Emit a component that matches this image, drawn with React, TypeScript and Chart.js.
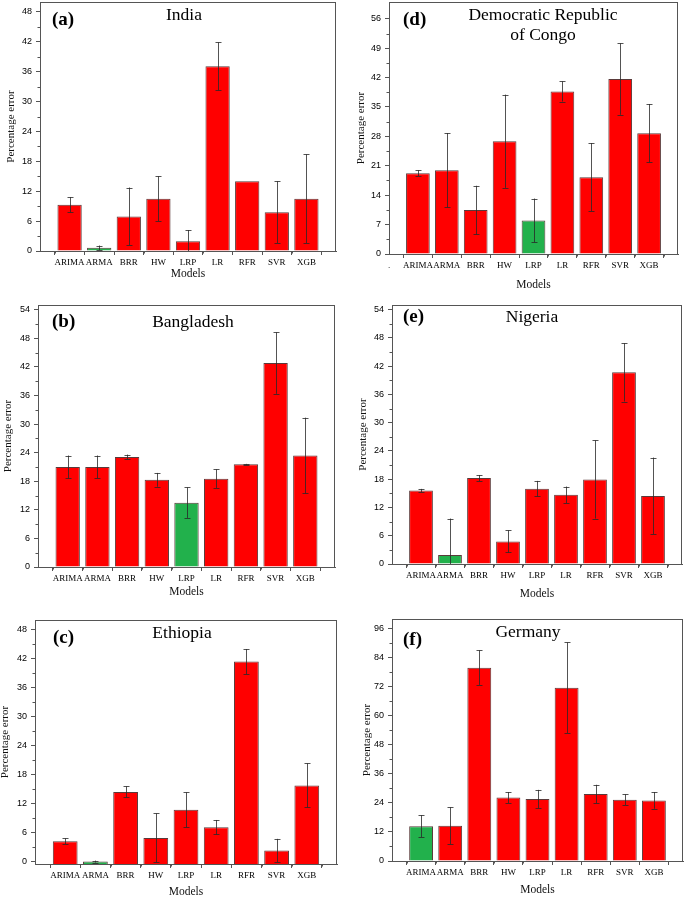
import { useEffect, useRef } from "react";
import { Chart, registerables, type ChartConfiguration, type Plugin } from "chart.js";

Chart.register(...registerables);

const models = ["ARIMA", "ARMA", "BRR", "HW", "LRP", "LR", "RFR", "SVR", "XGB"];

// (a) India
const indiaValues = [9.3, 0.65, 6.95, 10.5, 1.95, 37.1, 14.0, 7.8, 10.5];
const indiaErrors = [1.5, 0.45, 5.8, 4.5, 2.25, 4.8, 0, 6.2, 8.9];
const indiaTicks = [0, 6, 12, 18, 24, 30, 36, 42, 48];

// (b) Bangladesh
const bangladeshValues = [21.0, 21.0, 23.1, 18.3, 13.5, 18.55, 21.55, 42.8, 23.4];
const bangladeshErrors = [2.4, 2.4, 0.5, 1.45, 3.2, 1.95, 0.1, 6.45, 7.95];
const bangladeshTicks = [0, 6, 12, 18, 24, 30, 36, 42, 48, 54];

// (c) Ethiopia
const ethiopiaValues = [4.25, 0.05, 14.45, 4.95, 10.75, 7.15, 41.4, 2.35, 15.8];
const ethiopiaErrors = [0.6, 0.2, 1.15, 5.05, 3.6, 1.5, 2.6, 2.4, 4.55];
const ethiopiaTicks = [0, 6, 12, 18, 24, 30, 36, 42, 48];

// (d) Democratic Republic of Congo
const congoValues = [19.25, 19.95, 10.45, 26.85, 8.0, 38.7, 18.3, 41.65, 28.75];
const congoErrors = [0.7, 8.85, 5.8, 11.1, 5.2, 2.4, 8.1, 8.5, 6.95];
const congoTicks = [0, 7, 14, 21, 28, 35, 42, 49, 56];

// (e) Nigeria
const nigeriaValues = [15.6, 1.9, 18.25, 4.8, 16.0, 14.7, 17.95, 40.7, 14.45];
const nigeriaErrors = [0.35, 7.75, 0.65, 2.35, 1.65, 1.75, 8.3, 6.2, 8.15];
const nigeriaTicks = [0, 6, 12, 18, 24, 30, 36, 42, 48, 54];

// (f) Germany
const germanyValues = [14.4, 14.55, 79.9, 26.2, 25.6, 71.6, 27.7, 25.35, 25.05];
const germanyErrors = [4.5, 7.6, 7.15, 2.3, 3.8, 18.7, 3.8, 2.2, 3.45];
const germanyTicks = [0, 12, 24, 36, 48, 60, 72, 84, 96];

const RED = "#ff0000";
const GREEN = "#22b14c";
const SERIF = "'Liberation Serif', 'Times New Roman', serif";
const SANS = "'Liberation Sans', Arial, sans-serif";

type Panel = {
  letter: string;
  title: string[];
  values: number[];
  errors: number[];
  ticks: number[];
  yMin: number;
  yMax: number;
  green: number;
  firstLabel?: string;
  frame: [number, number, number, number]; // l, t, r, b (page px)
  modelsY: number;
  yTitleX: number;
  titleX: number;
  titleY: number;
  letterX: number;
  letterY: number;
};

const panels: Panel[] = [
  {
    letter: "(a)", title: ["India"], values: indiaValues, errors: indiaErrors, ticks: indiaTicks,
    yMin: 0, yMax: 50, green: 1, frame: [40, 2, 336, 251], modelsY: 274, yTitleX: 11,
    titleX: 184, titleY: 15, letterX: 52, letterY: 20,
  },
  {
    letter: "(b)", title: ["Bangladesh"], values: bangladeshValues, errors: bangladeshErrors, ticks: bangladeshTicks,
    yMin: 0, yMax: 55, green: 4, frame: [38, 305, 335, 567], modelsY: 592, yTitleX: 8,
    titleX: 193, titleY: 322, letterX: 52, letterY: 322,
  },
  {
    letter: "(c)", title: ["Ethiopia"], values: ethiopiaValues, errors: ethiopiaErrors, ticks: ethiopiaTicks,
    yMin: -0.45, yMax: 50, green: 1, frame: [35, 620, 337, 864], modelsY: 892, yTitleX: 5,
    titleX: 182, titleY: 633, letterX: 53, letterY: 638,
  },
  {
    letter: "(d)", title: ["Democratic Republic", "of Congo"], values: congoValues, errors: congoErrors, ticks: congoTicks,
    yMin: 0, yMax: 60, green: 4, firstLabel: ".", frame: [389, 2, 678, 254], modelsY: 285, yTitleX: 361,
    titleX: 543, titleY: 15, letterX: 403, letterY: 20,
  },
  {
    letter: "(e)", title: ["Nigeria"], values: nigeriaValues, errors: nigeriaErrors, ticks: nigeriaTicks,
    yMin: 0, yMax: 55, green: 1, frame: [392, 305, 682, 564], modelsY: 594, yTitleX: 363,
    titleX: 532, titleY: 317, letterX: 403, letterY: 317,
  },
  {
    letter: "(f)", title: ["Germany"], values: germanyValues, errors: germanyErrors, ticks: germanyTicks,
    yMin: 0, yMax: 100, green: 0, frame: [392, 619, 683, 861], modelsY: 890, yTitleX: 367,
    titleX: 528, titleY: 632, letterX: 403, letterY: 640,
  },
];

function canvasBox(p: Panel) {
  const [l, t, r] = p.frame;
  const left = Math.max(0, l - 40);
  const top = Math.max(0, t - 6);
  const right = Math.min(685, r + 3);
  const bottom = p.modelsY + 6;
  return { left, top, width: right - left, height: bottom - top };
}

function decorPlugin(p: Panel): Plugin<"bar"> {
  return {
    id: "panelDecor",
    afterDatasetsDraw(chart) {
      const { ctx } = chart;
      const x = chart.scales.x;
      const y = chart.scales.y;
      ctx.save();
      ctx.strokeStyle = "rgba(40,40,40,0.8)";
      ctx.lineWidth = 1;
      p.values.forEach((v, i) => {
        const e = p.errors[i];
        if (!e) return;
        const px = Math.round(x.getPixelForValue(i + 1)) + 0.5;
        const top = y.getPixelForValue(Math.min(v + e, p.yMax));
        const bot = y.getPixelForValue(Math.max(v - e, p.yMin));
        ctx.beginPath();
        ctx.moveTo(px, top);
        ctx.lineTo(px, bot);
        ctx.moveTo(px - 3, Math.round(top) + 0.5);
        ctx.lineTo(px + 3, Math.round(top) + 0.5);
        ctx.moveTo(px - 3, Math.round(bot) + 0.5);
        ctx.lineTo(px + 3, Math.round(bot) + 0.5);
        ctx.stroke();
      });
      ctx.restore();
    },
    afterDraw(chart) {
      const { ctx, chartArea } = chart;
      const x = chart.scales.x;
      const y = chart.scales.y;
      const box = canvasBox(p);
      ctx.save();
      // frame
      ctx.strokeStyle = "#555";
      ctx.lineWidth = 1;
      ctx.strokeRect(
        Math.round(chartArea.left) + 0.5,
        Math.round(chartArea.top) + 0.5,
        Math.round(chartArea.right - chartArea.left) - 1,
        Math.round(chartArea.bottom - chartArea.top)
      );
      // minor ticks
      ctx.beginPath();
      for (let i = 0; i < p.ticks.length - 1; i++) {
        const py = Math.round(y.getPixelForValue((p.ticks[i] + p.ticks[i + 1]) / 2)) + 0.5;
        ctx.moveTo(chartArea.left, py);
        ctx.lineTo(chartArea.left - 2.5, py);
      }
      for (let i = 0; i < 10; i++) {
        const px = Math.round(x.getPixelForValue(i + 0.5)) + 0.5;
        ctx.moveTo(px, chartArea.bottom);
        ctx.lineTo(px, chartArea.bottom + 2.5);
      }
      ctx.stroke();
      // title
      ctx.fillStyle = "#000";
      ctx.textAlign = "center";
      ctx.textBaseline = "middle";
      ctx.font = `17.5px ${SERIF}`;
      p.title.forEach((line, i) => {
        ctx.fillText(line, p.titleX - box.left, p.titleY - box.top + i * 20);
      });
      ctx.textAlign = "left";
      ctx.font = `bold 19px ${SERIF}`;
      ctx.fillText(p.letter, p.letterX - box.left, p.letterY - box.top);
      ctx.restore();
    },
  };
}

function PanelChart({ p }: { p: Panel }) {
  const canvasRef = useRef<HTMLCanvasElement>(null);
  const box = canvasBox(p);

  useEffect(() => {
    if (!canvasRef.current) return;
    const [l, t, r, b] = p.frame;
    const labels = [p.firstLabel ?? "", ...models, ""];
    const colors = models.map((_, i) => (i === p.green ? GREEN : RED));
    const config: ChartConfiguration<"bar"> = {
      type: "bar",
      data: {
        labels,
        datasets: [
          {
            data: [null, ...p.values, null] as any,
            backgroundColor: ["#fff", ...colors, "#fff"],
            borderColor: "#5a3a3a",
            borderWidth: 1,
            barPercentage: 0.82,
            categoryPercentage: 1,
            base: p.yMin,
          },
        ],
      },
      options: {
        responsive: false,
        animation: false,
        devicePixelRatio: 1,
        layout: {
          padding: { top: t - box.top, right: box.left + box.width - r, left: 0, bottom: 0 },
        },
        plugins: { legend: { display: false }, tooltip: { enabled: false }, title: { display: false } },
        scales: {
          x: {
            type: "category",
            offset: false,
            grid: { display: true, drawOnChartArea: false, drawTicks: true, tickLength: 4, color: "#555" },
            border: { display: true, color: "#555", width: 1 },
            ticks: {
              autoSkip: false,
              maxRotation: 0,
              padding: 2,
              color: "#000",
              font: { family: SERIF, size: 9 },
            },
            title: {
              display: true,
              text: "Models",
              color: "#111",
              font: { family: SERIF, size: 11.5, lineHeight: 1 },
              padding: { top: 0, bottom: 0 },
            },
            afterFit: (scale: any) => {
              scale.height = box.top + box.height - b;
              scale.paddingLeft = 0;
              scale.paddingRight = 0;
            },
          },
          y: {
            type: "linear",
            min: p.yMin,
            max: p.yMax,
            grid: { display: true, drawOnChartArea: false, drawTicks: true, tickLength: 4, color: "#555" },
            border: { display: true, color: "#555", width: 1 },
            ticks: {
              padding: 4,
              color: "#000",
              font: { family: SANS, size: 9 },
            },
            afterBuildTicks: (axis: any) => {
              axis.ticks = p.ticks.map((value) => ({ value }));
            },
            title: {
              display: true,
              text: "Percentage error",
              color: "#111",
              font: { family: SERIF, size: 11, lineHeight: 1 },
              padding: { top: Math.max(0, p.yTitleX - box.left - 5.5), bottom: 0 },
            },
            afterFit: (scale: any) => {
              scale.width = l - box.left;
              scale.paddingTop = 0;
              scale.paddingBottom = 0;
            },
          },
        },
      },
      plugins: [decorPlugin(p)],
    };
    const chart = new Chart(canvasRef.current, config);
    return () => chart.destroy();
  }, [p]);

  return (
    <canvas
      ref={canvasRef}
      width={box.width}
      height={box.height}
      style={{ position: "absolute", left: box.left, top: box.top, width: box.width, height: box.height }}
    />
  );
}

export default function App() {
  return (
    <div
      style={{
        position: "absolute",
        left: 0,
        top: 0,
        width: 685,
        height: 898,
        overflow: "hidden",
        background: "#fff",
      }}
    >
      {panels.map((p) => (
        <PanelChart key={p.letter} p={p} />
      ))}
    </div>
  );
}
